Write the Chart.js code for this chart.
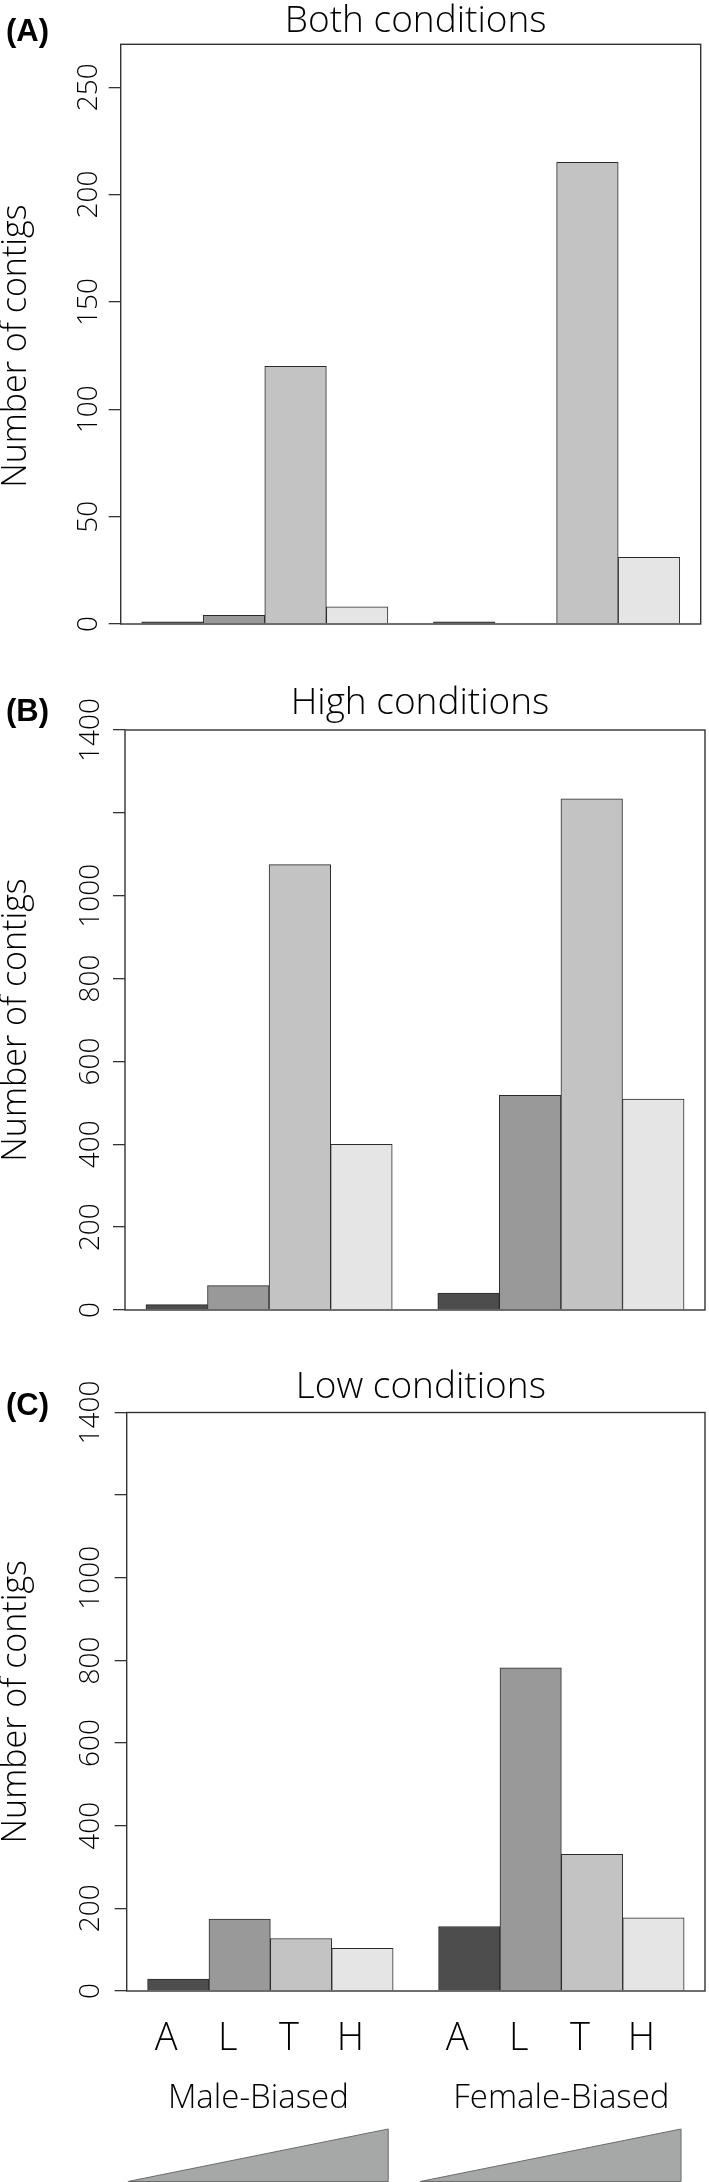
<!DOCTYPE html>
<html>
<head>
<meta charset="utf-8">
<script src="https://cdn.jsdelivr.net/npm/chart.js@4.4.1/dist/chart.umd.min.js"></script>
<style>
  html, body { margin: 0; padding: 0; background: #fff; }
  #wrap { position: relative; width: 709px; height: 2182px; overflow: hidden; }
  canvas { position: absolute; left: 0; display: block; }
</style>
</head>
<body>
<div id="wrap">
  <canvas id="chartA" width="709" height="650" style="top:0"></canvas>
  <canvas id="chartB" width="709" height="680" style="top:650px"></canvas>
  <canvas id="chartC" width="709" height="852" style="top:1330px"></canvas>
</div>
<script>
// categories
const groups = ['Male-Biased', 'Female-Biased'];
const stages = ['A', 'L', 'T', 'H'];

// contig counts, male A L T H then female A L T H
const bothCounts = [1, 4, 120, 8, 1, 0, 215, 31];
const highCounts = [13, 59, 1075, 400, 41, 518, 1234, 509];
const lowCounts = [29, 174, 127, 103, 156, 782, 331, 177];

// y tick labels that are printed (1200 gets a tick mark only)
const bothTicks = [0, 50, 100, 150, 200, 250];
const countTicks = [0, 200, 400, 600, 800, 1000, 1400];

const stageColors = ['#4d4d4d', '#999999', '#c3c3c3', '#e5e5e5'];
const FONT = "'Open Sans', 'Liberation Sans', Arial, sans-serif";
const INK = '#000';

// bar layout in bar-width units
const EDGE = 0.34, GROUP_GAP = 0.74;
const X_MAX = EDGE * 2 + GROUP_GAP + stages.length * 2;

function barX(g, s) {
    return EDGE + g * (stages.length + GROUP_GAP) + s + 0.5;
}

function toPoints(counts) {
    const pts = [];
    groups.forEach((g, gi) => {
        stages.forEach((s, si) => {
            pts.push({ x: barX(gi, si), y: counts[gi * stages.length + si] });
        });
    });
    return pts;
}

function rotatedText(ctx, text, x, y) {
    ctx.save();
    ctx.translate(x, y);
    ctx.rotate(-Math.PI / 2);
    ctx.fillText(text, 0, 0);
    ctx.restore();
}

// frame, labels, titles and the bottom annotations
const panelDecor = {
    id: 'panelDecor',
    afterDatasetsDraw(chart, args, o) {
        const { ctx, chartArea: a, scales: { x, y } } = chart;
        ctx.save();
        ctx.strokeStyle = '#333';
        ctx.lineWidth = 1.4;
        ctx.strokeRect(a.left, a.top, a.right - a.left, a.bottom - a.top);

        ctx.fillStyle = INK;
        ctx.textAlign = 'center';
        ctx.textBaseline = 'alphabetic';

        ctx.font = `300 28px ${FONT}`;
        o.tickLabels.forEach(v => rotatedText(ctx, String(v), a.left - o.tickGap, y.getPixelForValue(v)));

        ctx.font = `300 34px ${FONT}`;
        rotatedText(ctx, 'Number of contigs', 26, (a.top + a.bottom) / 2 + (o.labelShift || 0));

        ctx.font = `300 37px ${FONT}`;
        ctx.fillText(o.title, (a.left + a.right) / 2 + 5, o.titleY);

        ctx.textAlign = 'left';
        ctx.font = `bold 31px 'Liberation Sans', Arial, sans-serif`;
        ctx.fillText(o.tag, 6, o.tagY);

        if (o.bottom) {
            ctx.textAlign = 'center';
            ctx.font = `300 38px ${FONT}`;
            groups.forEach((g, gi) => {
                stages.forEach((s, si) => {
                    ctx.fillText(s, x.getPixelForValue(barX(gi, si)) - 12, o.bottom.letterY);
                });
            });
            ctx.font = `300 33px ${FONT}`;
            groups.forEach((g, gi) => {
                const mid = EDGE + gi * (stages.length + GROUP_GAP) + stages.length / 2;
                ctx.fillText(g, x.getPixelForValue(mid) + o.bottom.groupShift[gi], o.bottom.groupY);
            });
            ctx.fillStyle = '#a5a8a7';
            ctx.strokeStyle = '#6c6c6c';
            ctx.lineWidth = 1;
            o.bottom.wedges.forEach(([x0, x1]) => {
                const p0 = x.getPixelForValue(x0), p1 = x.getPixelForValue(x1);
                ctx.beginPath();
                ctx.moveTo(p0, o.bottom.wedgeBase);
                ctx.lineTo(p1, o.bottom.wedgeTop);
                ctx.lineTo(p1, o.bottom.wedgeBase);
                ctx.closePath();
                ctx.fill();
                ctx.stroke();
            });
        }
        ctx.restore();
    }
};

function makePanel(id, counts, yMax, step, deco, padding) {
    const ctx = document.getElementById(id).getContext('2d');
    return new Chart(ctx, {
        type: 'bar',
        data: {
            datasets: [{
                data: toPoints(counts),
                backgroundColor: counts.map((c, i) => stageColors[i % stages.length]),
                borderColor: '#2b2b2b',
                borderWidth: 1,
                borderSkipped: 'start',
                barPercentage: 1,
                categoryPercentage: 1
            }]
        },
        options: {
            responsive: false,
            animation: false,
            layout: { padding: padding },
            scales: {
                x: {
                    type: 'linear',
                    display: false,
                    offset: false,
                    min: 0,
                    max: X_MAX,
                    ticks: { stepSize: 2, includeBounds: false }
                },
                y: {
                    min: 0,
                    max: yMax,
                    ticks: { stepSize: step, display: false, includeBounds: false },
                    grid: { drawOnChartArea: false, drawTicks: true, tickLength: 12, color: '#333', lineWidth: 1.3 },
                    border: { display: false },
                    afterFit: s => { s.width = 20; }
                }
            },
            plugins: {
                legend: { display: false },
                tooltip: { enabled: false },
                panelDecor: deco
            }
        },
        plugins: [panelDecor]
    });
}

makePanel('chartA', bothCounts, 270, 50,
    { title: 'Both conditions', titleY: 32, tag: '(A)', tagY: 41, tickLabels: bothTicks, tickGap: 24, labelShift: 12 },
    { top: 44.3, bottom: 26, left: 100.7, right: 8.3 });

makePanel('chartB', highCounts, 1400, 200,
    { title: 'High conditions', titleY: 64, tag: '(B)', tagY: 71, tickLabels: countTicks, tickGap: 26 },
    { top: 80, bottom: 20, left: 105, right: 4 });

makePanel('chartC', lowCounts, 1400, 200,
    {
        title: 'Low conditions', titleY: 68, tag: '(C)', tagY: 85, tickLabels: countTicks, tickGap: 27.7,
        bottom: {
            letterY: 720, groupY: 778, groupShift: [-12, 0],
            wedges: [[0.02, 4.26], [4.78, 9.03]], wedgeTop: 799, wedgeBase: 851.5
        }
    },
    { top: 82.5, bottom: 191, left: 106.7, right: 4 });
</script>
</body>
</html>
